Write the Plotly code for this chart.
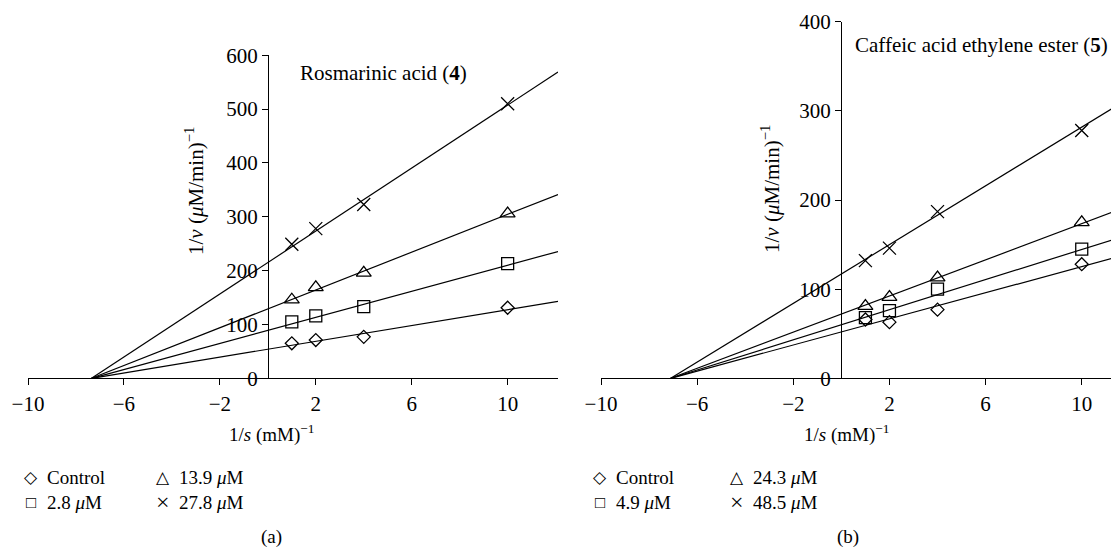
import numpy as np
import plotly.graph_objects as go

# page body has an 8px margin; the figure is sized to fill the rest of the window
OFF = 8
W, H = 1119 - OFF, 550 - OFF

# ---------------- data ----------------
s_inv = [1, 2, 4, 10]

# Panel (a) Rosmarinic acid (4)
a_labels = ["Control", "2.8 μM", "13.9 μM", "27.8 μM"]
a_control = [65, 71, 77, 131]
a_c28 = [105, 116, 133, 213]
a_c139 = [146, 169, 196, 306]
a_c278 = [249, 278, 323, 510]
a_line_intercepts = [54, 89, 129, 215]
a_x_intercept = -7.35

# Panel (b) Caffeic acid ethylene ester (5)
b_labels = ["Control", "4.9 μM", "24.3 μM", "48.5 μM"]
b_control = [66, 63, 77, 128]
b_c49 = [68, 76, 100, 145]
b_c243 = [81, 91, 113, 175]
b_c485 = [132, 146, 187, 278]
b_line_intercepts = [52, 60, 72, 117]
b_x_intercept = -7.1

symbols = ["diamond-open", "square-open", "triangle-up-open", "x-thin-open"]
sizes = [10, 12, 13, 13]

FONT = "Liberation Serif"
FS = 19
TFS = 21
fig = go.Figure()

a_range = [-10, 12.1]
b_range = [-10, 11.55]


def fx(px):
    return (px - OFF) / W


def fy(py):
    return 1 - (py - OFF) / H


def add_panel(series, intercepts, xint, xr, xa, ya):
    for vals, b, sym, sz in zip(series, intercepts, symbols, sizes):
        slope = b / (-xint)
        xs = np.array([xint, xr[1]])
        ys = b + slope * xs
        fig.add_trace(go.Scatter(x=xs, y=ys, mode="lines",
                                 line=dict(color="black", width=1.2),
                                 xaxis=xa, yaxis=ya, showlegend=False,
                                 hoverinfo="skip"))
        fig.add_trace(go.Scatter(x=s_inv, y=vals, mode="markers",
                                 marker=dict(symbol=sym, size=sz, color="black",
                                             line=dict(color="black", width=1.3)),
                                 xaxis=xa, yaxis=ya, showlegend=False))


add_panel([a_control, a_c28, a_c139, a_c278], a_line_intercepts, a_x_intercept, a_range, "x", "y")
add_panel([b_control, b_c49, b_c243, b_c485], b_line_intercepts, b_x_intercept, b_range, "x2", "y2")

tickfont = dict(family=FONT, size=TFS, color="black")
xticks = [-10, -6, -2, 2, 6, 10]

common_x = dict(showgrid=False, zeroline=False, showline=True, linecolor="black",
                linewidth=1.3, ticks="outside", ticklen=6, tickwidth=1.3,
                tickcolor="black", tickvals=xticks, tickfont=tickfont,
                automargin=False)
common_y = dict(showgrid=False, zeroline=False, showline=True, linecolor="black",
                linewidth=1.3, ticks="outside", ticklen=6, tickwidth=1.3,
                tickcolor="black", tickfont=tickfont, anchor="free",
                automargin=False)

fig.update_layout(
    width=W, height=H,
    margin=dict(l=0, r=0, t=0, b=0, autoexpand=False),
    paper_bgcolor="white", plot_bgcolor="rgba(0,0,0,0)",
    font=dict(family=FONT, color="black"),
    xaxis=dict(domain=[fx(28), fx(558)], range=a_range, anchor="y", **common_x),
    yaxis=dict(domain=[fy(378.3), fy(55.3)], range=[0, 600], position=fx(268),
               tickvals=[0, 100, 200, 300, 400, 500, 600], **common_y),
    xaxis2=dict(domain=[fx(601), 1.0], range=b_range, anchor="y2", **common_x),
    yaxis2=dict(domain=[fy(378.3), fy(21.7)], range=[0, 400], position=fx(841),
                tickvals=[0, 100, 200, 300, 400], **common_y),
    showlegend=False,
)


def ann(text, px, py, size=FS, xanchor="center", angle=0):
    fig.add_annotation(text=text, x=fx(px), y=fy(py), xref="paper", yref="paper",
                       showarrow=False, xanchor=xanchor, yanchor="middle",
                       textangle=angle, font=dict(family=FONT, size=size, color="black"))


ytitle = "1/<i>v</i> (<i>μ</i>M/min)<sup>−1</sup>"
xtitle = "1/<i>s</i> (mM)<sup>−1</sup>"
ann(ytitle, 194, 191, size=TFS, angle=-90)
ann(ytitle, 770, 189, size=TFS, angle=-90)
ann(xtitle, 271, 433)
ann(xtitle, 846, 433)
ann("Rosmarinic acid (<b>4</b>)", 298, 73, size=TFS, xanchor="left")
ann("Caffeic acid ethylene ester (<b>5</b>)", 853, 45, size=TFS, xanchor="left")

leg_syms = ["◇", "□", "△", "×"]
leg_sizes = [17, 17, 17, 24]


def legend(labels, x1s, x1t, x2s, x2t):
    pos = [(x1s, x1t, 477), (x1s, x1t, 502), (x2s, x2t, 477), (x2s, x2t, 502)]
    for sym, ssz, lab, (xs, xt, y) in zip(leg_syms, leg_sizes, labels, pos):
        ann(sym, xs, y, size=ssz)
        lab_html = lab.replace(" μM", " <i>μ</i>M")
        ann(lab_html, xt, y, xanchor="left")


legend(a_labels, 31, 45, 163, 177)
legend(b_labels, 600, 614, 737, 751)

ann("(a)", 271, 537)
ann("(b)", 848, 537)

fig.write_html("out.html")
